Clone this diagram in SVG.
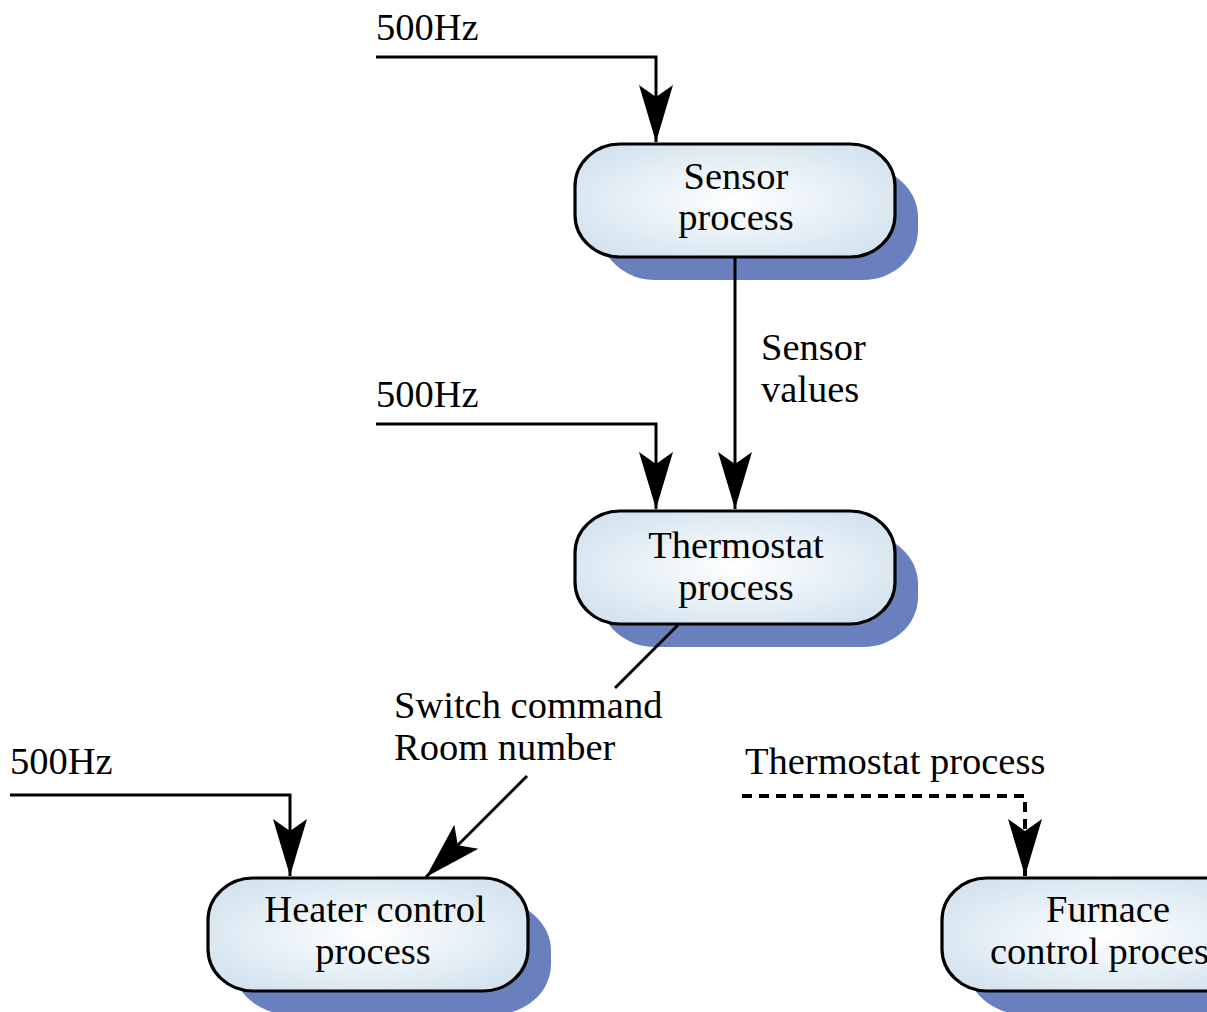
<svg xmlns="http://www.w3.org/2000/svg" width="1207" height="1012" viewBox="0 0 1207 1012">
  <defs>
    <radialGradient id="nodeFill" cx="0.5" cy="0.5" r="0.6">
      <stop offset="0" stop-color="#ffffff"/>
      <stop offset="1" stop-color="#d3e3ef"/>
    </radialGradient>
    <marker id="arrow" markerUnits="userSpaceOnUse" markerWidth="60" markerHeight="40" viewBox="-58 -20 60 40" refX="0" refY="0" orient="auto">
      <path d="M0,0 L-57,-17 L-45,0 L-57,17 Z" fill="#000"/>
    </marker>
  </defs>
  <style>
    .shadow { fill: #6a7fbd; }
    .box { fill: url(#nodeFill); stroke: #000; stroke-width: 3.2; }
    .lbl { font-family: "Liberation Serif", "Times New Roman", serif; font-size: 38.5px; fill: #000; }
    .mid { text-anchor: middle; }
    .edge { fill: none; stroke: #000; stroke-width: 3; }
    .dash { stroke-width: 4; stroke-dasharray: 10 7; }
  </style>
  <rect width="1207" height="1012" fill="#fff"/>

  <!-- process nodes -->
  <g id="sensor">
    <rect class="shadow" x="600" y="167" width="318" height="113" rx="55" ry="50"/>
    <rect class="box" x="575" y="144" width="320" height="113" rx="45" ry="42"/>
    <text class="lbl mid" x="736" y="189">Sensor</text>
    <text class="lbl mid" x="736" y="230">process</text>
  </g>
  <g id="thermostat">
    <rect class="shadow" x="600" y="534" width="318" height="113" rx="55" ry="50"/>
    <rect class="box" x="575" y="511" width="320" height="113" rx="45" ry="42"/>
    <text class="lbl mid" x="736" y="558">Thermostat</text>
    <text class="lbl mid" x="736" y="600">process</text>
  </g>
  <g id="heater">
    <rect class="shadow" x="233" y="901" width="318" height="113" rx="55" ry="50"/>
    <rect class="box" x="208" y="878" width="320" height="113" rx="45" ry="42"/>
    <text class="lbl mid" x="375" y="922">Heater control</text>
    <text class="lbl mid" x="373" y="964">process</text>
  </g>
  <g id="furnace">
    <rect class="shadow" x="967" y="901" width="330" height="113" rx="55" ry="50"/>
    <rect class="box" x="942" y="878" width="330" height="113" rx="45" ry="42"/>
    <text class="lbl mid" x="1108" y="922">Furnace</text>
    <text class="lbl mid" x="1107" y="964">control process</text>
  </g>

  <!-- connectors -->
  <g id="connectors">
    <path class="edge" d="M376,57 H656 V142" marker-end="url(#arrow)"/>
    <path class="edge" d="M735,258 V509" marker-end="url(#arrow)"/>
    <path class="edge" d="M376,424 H656 V509" marker-end="url(#arrow)"/>
    <path class="edge" d="M678,625 L615,688"/>
    <path class="edge" d="M527,776 L426,877" marker-end="url(#arrow)"/>
    <path class="edge" d="M10,795 H290 V876" marker-end="url(#arrow)"/>
    <path class="edge dash" d="M742,796 H1025 V876" marker-end="url(#arrow)"/>
    <text class="lbl" x="761" y="360">Sensor</text>
    <text class="lbl" x="761" y="402">values</text>
    <text class="lbl" x="394" y="718">Switch command</text>
    <text class="lbl" x="394" y="760">Room number</text>
    <text class="lbl" x="376" y="40">500Hz</text>
    <text class="lbl" x="376" y="407">500Hz</text>
    <text class="lbl" x="10" y="774">500Hz</text>
    <text class="lbl" x="745" y="774">Thermostat process</text>
  </g>
</svg>
